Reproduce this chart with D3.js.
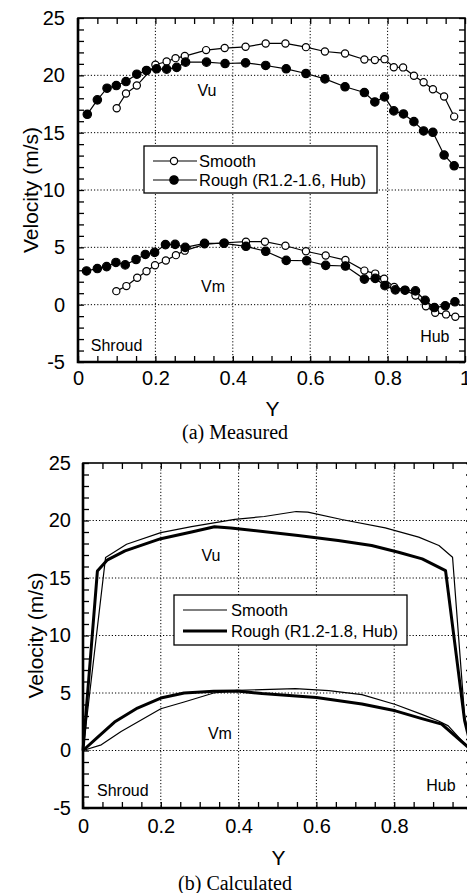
<!DOCTYPE html>
<html>
<head>
<meta charset="utf-8">
<script src="https://cdn.jsdelivr.net/npm/d3@7"></script>
<style>
  body { margin: 0; background: #fff; }
  svg { display: block; }
  text { font-family: "Liberation Sans", Arial, sans-serif; fill: #000; }
  .caption { font-family: "Liberation Serif", "Times New Roman", serif; }
</style>
</head>
<body>
<div id="chart"></div>
<script>
// ---- data ----
// (a) measured
let measSmoothVuX = [0.100,0.124,0.152,0.200,0.229,0.252,0.276,0.331,0.379,0.433,0.485,0.536,0.589,0.638,0.690,0.740,0.767,0.792,0.816,0.840,0.868,0.893,0.917,0.946,0.972];
let measSmoothVu  = [17.13,18.41,19.11,20.92,21.21,21.50,21.68,22.20,22.38,22.49,22.78,22.78,22.46,22.08,21.91,21.38,21.33,21.41,20.71,20.69,19.96,19.40,18.79,18.15,16.40];

let measRoughVuX = [0.024,0.050,0.075,0.099,0.124,0.152,0.177,0.203,0.229,0.255,0.278,0.332,0.380,0.433,0.485,0.538,0.589,0.638,0.690,0.740,0.767,0.792,0.816,0.841,0.868,0.893,0.917,0.946,0.972];
let measRoughVu  = [16.6,17.86,18.88,19.11,19.46,20.10,20.42,20.57,20.54,20.69,21.15,21.15,21.03,21.09,20.86,20.57,20.16,19.69,19.0,18.5,17.68,18.12,16.9,16.63,15.96,15.15,15.03,13.05,12.11];

let measSmoothVmX = [0.099,0.125,0.153,0.177,0.199,0.227,0.253,0.276,0.327,0.379,0.434,0.483,0.536,0.589,0.640,0.691,0.740,0.768,0.791,0.817,0.845,0.872,0.899,0.923,0.951,0.975];
let measSmoothVm  = [1.18,1.62,2.35,2.91,3.44,3.85,4.32,4.71,5.26,5.4,5.49,5.49,5.14,4.66,4.29,3.89,2.97,2.71,2.26,1.54,1.29,0.8,-0.14,-0.7,-0.85,-1.05];

let measRoughVmX = [0.022,0.050,0.074,0.098,0.122,0.150,0.174,0.198,0.226,0.251,0.277,0.327,0.377,0.434,0.485,0.538,0.591,0.640,0.691,0.740,0.768,0.793,0.820,0.845,0.872,0.897,0.921,0.949,0.974];
let measRoughVm  = [2.94,3.15,3.32,3.68,3.47,3.94,4.38,4.56,5.24,5.26,5.0,5.35,5.35,5.09,4.66,3.86,3.83,3.43,3.37,2.23,2.29,1.66,1.29,1.26,1.2,0.37,-0.25,-0.1,0.25];

// (b) calculated
let calcSmoothVuX = [0,0.058,0.112,0.2,0.279,0.39,0.466,0.548,0.578,0.665,0.777,0.863,0.915,0.95,0.981,1.0];
let calcSmoothVu  = [0,16.78,17.93,18.94,19.46,20.1,20.35,20.78,20.73,20.09,19.36,18.55,17.82,16.8,3.0,0];

let calcRoughVuX = [0,0.037,0.063,0.108,0.2,0.279,0.338,0.38,0.553,0.656,0.742,0.811,0.872,0.932,0.981,1.0];
let calcRoughVu  = [0,15.6,16.58,17.36,18.42,19.0,19.46,19.35,18.69,18.26,17.82,17.24,16.66,15.64,2.6,0];

let calcSmoothVmX = [0,0.047,0.098,0.2,0.26,0.336,0.396,0.46,0.546,0.632,0.717,0.803,0.871,0.914,0.939,0.983,1.0];
let calcSmoothVm  = [0,0.49,1.66,3.63,4.22,5.0,5.23,5.3,5.38,5.2,4.86,4.0,3.14,2.57,2.14,0.5,0];

let calcRoughVmX = [0,0.038,0.081,0.14,0.2,0.26,0.336,0.396,0.46,0.6,0.717,0.803,0.871,0.922,0.983,1.0];
let calcRoughVm  = [0,1.16,2.47,3.69,4.56,5.0,5.15,5.17,4.95,4.6,4.05,3.45,2.77,2.29,0.5,0];

let xTicks = [0, 0.2, 0.4, 0.6, 0.8, 1];
let yTicks = [-5, 0, 5, 10, 15, 20, 25];
let legendA = ["Smooth", "Rough (R1.2-1.6, Hub)"];
let legendB = ["Smooth", "Rough (R1.2-1.8, Hub)"];

let zip = (xs, vs) => xs.map((x, i) => [x, vs[i]]);

let svg = d3.select("#chart").append("svg")
  .attr("width", 467)
  .attr("height", 893);

function panel(cfg) {
  let x = d3.scaleLinear().domain([0, 1]).range([cfg.left, cfg.right]);
  let y = d3.scaleLinear().domain([-5, 25]).range([cfg.bottom, cfg.top]);
  let g = svg.append("g");

  // dotted grid
  g.selectAll(".gx").data([0.2, 0.4, 0.6, 0.8]).enter().append("line")
    .attr("x1", d => x(d)).attr("x2", d => x(d))
    .attr("y1", cfg.top).attr("y2", cfg.bottom)
    .attr("stroke", "#000").attr("stroke-width", 1).attr("stroke-dasharray", "1.2,2");
  g.selectAll(".gy").data([0, 5, 10, 15, 20]).enter().append("line")
    .attr("x1", cfg.left).attr("x2", cfg.right)
    .attr("y1", d => y(d)).attr("y2", d => y(d))
    .attr("stroke", "#000").attr("stroke-width", 1).attr("stroke-dasharray", "1.2,2");

  // inside ticks on all four sides
  let xMinor = d3.range(0, 1.0001, 0.05);
  let yMinor = d3.range(-5, 25.001, 1);
  g.append("g").attr("transform", `translate(0,${cfg.bottom})`)
    .call(d3.axisBottom(x).tickValues(xMinor).tickSize(-6).tickFormat(""));
  g.append("g").attr("transform", `translate(0,${cfg.top})`)
    .call(d3.axisTop(x).tickValues(xMinor).tickSize(-6).tickFormat(""));
  g.append("g").attr("transform", `translate(${cfg.left},0)`)
    .call(d3.axisLeft(y).tickValues(yMinor).tickSize(-6).tickFormat(""));
  g.append("g").attr("transform", `translate(${cfg.right},0)`)
    .call(d3.axisRight(y).tickValues(yMinor).tickSize(-6).tickFormat(""));
  g.selectAll(".domain").remove();
  g.selectAll(".tick line").attr("stroke", "#000").attr("stroke-width", 1.3);

  // frame
  g.append("rect")
    .attr("x", cfg.left).attr("y", cfg.top)
    .attr("width", cfg.right - cfg.left).attr("height", cfg.bottom - cfg.top)
    .attr("fill", "none").attr("stroke", "#000").attr("stroke-width", 1.6);
  g.append("path")
    .attr("d", `M${cfg.left},${cfg.top}V${cfg.bottom}H${cfg.right}`)
    .attr("fill", "none").attr("stroke", "#000").attr("stroke-width", 2.6);

  // tick labels (plain hyphen for the minus, as in the figure)
  let xl = g.append("g").attr("transform", `translate(0,${cfg.bottom})`)
    .call(d3.axisBottom(x).tickValues(xTicks).tickSize(0).tickPadding(cfg.xPad).tickFormat(d => String(d)));
  let yl = g.append("g").attr("transform", `translate(${cfg.left},0)`)
    .call(d3.axisLeft(y).tickValues(yTicks).tickSize(0).tickPadding(cfg.yPad).tickFormat(d => String(d)));
  xl.select(".domain").remove();
  yl.select(".domain").remove();
  g.selectAll(".tick text").attr("font-size", 20).attr("font-family", "Liberation Sans, Arial, sans-serif");

  // titles
  g.append("text")
    .attr("transform", `translate(${cfg.yTitleX},${(cfg.top + cfg.bottom) / 2}) rotate(-90)`)
    .attr("text-anchor", "middle").attr("dominant-baseline", "central")
    .attr("font-size", 21).text("Velocity (m/s)");
  g.append("text")
    .attr("x", (cfg.left + cfg.right) / 2 + 1).attr("y", cfg.yLabelY)
    .attr("text-anchor", "middle").attr("dominant-baseline", "central")
    .attr("font-size", 21).text("Y");
  g.append("text").classed("caption", true)
    .attr("x", 235).attr("y", cfg.captionY)
    .attr("text-anchor", "middle").attr("dominant-baseline", "central")
    .attr("font-size", 20).text(cfg.caption);

  // annotations
  cfg.notes.forEach(n => {
    g.append("text")
      .attr("x", x(n.x)).attr("y", y(n.v))
      .attr("text-anchor", n.anchor).attr("dominant-baseline", "central")
      .attr("font-size", 16).text(n.t);
  });

  return { g, x, y };
}

// ---- (a) measured ----
let a = panel({
  left: 78, right: 465, top: 18, bottom: 362,
  xPad: 9, yPad: 13, yTitleX: 30, yLabelY: 408, captionY: 432,
  caption: "(a) Measured",
  notes: [
    { t: "Vu", x: 0.333, v: 18.7, anchor: "middle" },
    { t: "Vm", x: 0.349, v: 1.6, anchor: "middle" },
    { t: "Shroud", x: 0.033, v: -3.6, anchor: "start" },
    { t: "Hub", x: 0.922, v: -2.8, anchor: "middle" }
  ]
});

let lineA = d3.line().x(d => a.x(d[0])).y(d => a.y(d[1]));
let seriesA = [
  { pts: zip(measSmoothVuX, measSmoothVu), open: true },
  { pts: zip(measRoughVuX, measRoughVu), open: false },
  { pts: zip(measSmoothVmX, measSmoothVm), open: true },
  { pts: zip(measRoughVmX, measRoughVm), open: false }
];
seriesA.forEach(s => {
  a.g.append("path").attr("d", lineA(s.pts))
    .attr("fill", "none").attr("stroke", "#000").attr("stroke-width", 1.2);
});
seriesA.forEach(s => {
  a.g.selectAll(null).data(s.pts).enter().append("circle")
    .attr("cx", d => a.x(d[0])).attr("cy", d => a.y(d[1]))
    .attr("r", s.open ? 3.6 : 4.2)
    .attr("fill", s.open ? "#fff" : "#000")
    .attr("stroke", "#000").attr("stroke-width", 1.2);
});

// legend (a)
let legA = a.g.append("g");
legA.append("rect").attr("x", 144).attr("y", 146).attr("width", 233).attr("height", 47)
  .attr("fill", "#fff").attr("stroke", "#000").attr("stroke-width", 1.3);
legendA.forEach((name, i) => {
  let yy = 161 + i * 19;
  legA.append("line").attr("x1", 153).attr("x2", 197).attr("y1", yy).attr("y2", yy)
    .attr("stroke", "#000").attr("stroke-width", 1.2);
  legA.append("circle").attr("cx", 174).attr("cy", yy).attr("r", i === 0 ? 3.6 : 4.2)
    .attr("fill", i === 0 ? "#fff" : "#000").attr("stroke", "#000").attr("stroke-width", 1.2);
  legA.append("text").attr("x", 199).attr("y", yy).attr("dominant-baseline", "central")
    .attr("font-size", 16.5).text(name);
});

// ---- (b) calculated ----
let b = panel({
  left: 83, right: 472, top: 463, bottom: 808,
  xPad: 11, yPad: 12, yTitleX: 35, yLabelY: 857, captionY: 883,
  caption: "(b) Calculated",
  notes: [
    { t: "Vu", x: 0.329, v: 17.0, anchor: "middle" },
    { t: "Vm", x: 0.352, v: 1.5, anchor: "middle" },
    { t: "Shroud", x: 0.036, v: -3.5, anchor: "start" },
    { t: "Hub", x: 0.92, v: -3.0, anchor: "middle" }
  ]
});

let lineB = d3.line().x(d => b.x(d[0])).y(d => b.y(d[1]));
let seriesB = [
  { pts: zip(calcSmoothVuX, calcSmoothVu), w: 1.2 },
  { pts: zip(calcSmoothVmX, calcSmoothVm), w: 1.2 },
  { pts: zip(calcRoughVuX, calcRoughVu), w: 3 },
  { pts: zip(calcRoughVmX, calcRoughVm), w: 3 }
];
seriesB.forEach(s => {
  b.g.append("path").attr("d", lineB(s.pts))
    .attr("fill", "none").attr("stroke", "#000").attr("stroke-width", s.w)
    .attr("stroke-linejoin", "round");
});

// legend (b)
let legB = b.g.append("g");
legB.append("rect").attr("x", 174).attr("y", 595).attr("width", 233).attr("height", 50)
  .attr("fill", "#fff").attr("stroke", "#000").attr("stroke-width", 1.3);
legendB.forEach((name, i) => {
  let yy = 610 + i * 21;
  legB.append("line").attr("x1", 183).attr("x2", 227).attr("y1", yy).attr("y2", yy)
    .attr("stroke", "#000").attr("stroke-width", i === 0 ? 1.2 : 3);
  legB.append("text").attr("x", 231).attr("y", yy).attr("dominant-baseline", "central")
    .attr("font-size", 16.5).text(name);
});
</script>
</body>
</html>
